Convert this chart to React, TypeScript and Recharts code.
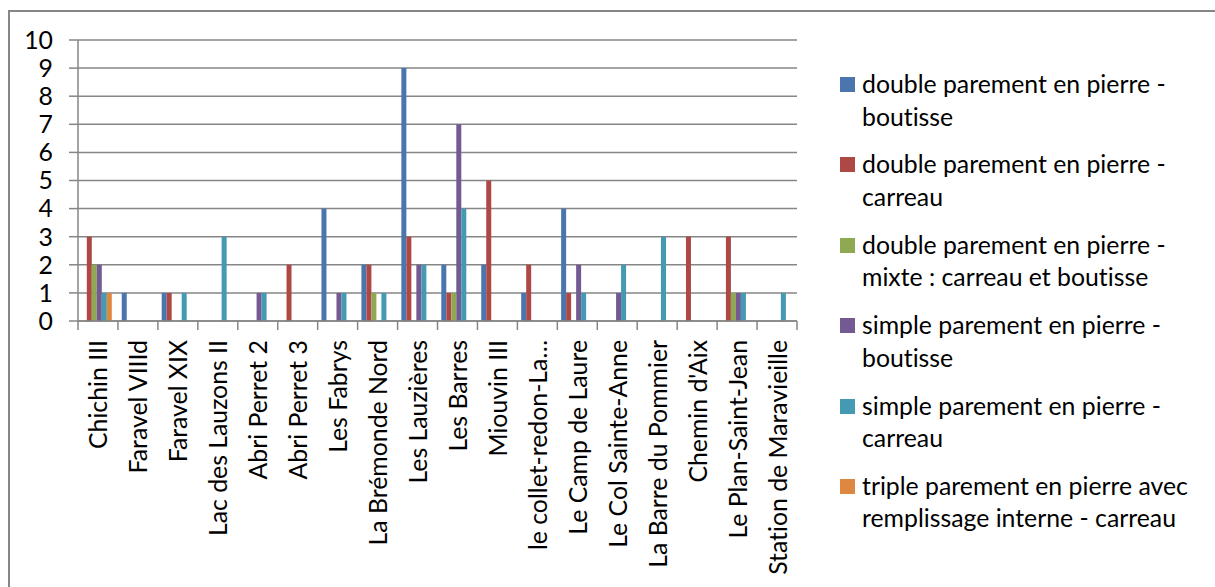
import React from 'react';
import { BarChart, Bar, XAxis, YAxis, CartesianGrid } from 'recharts';

const categories = [
  'Chichin III',
  'Faravel VIIId',
  'Faravel XIX',
  'Lac des Lauzons II',
  'Abri Perret 2',
  'Abri Perret 3',
  'Les Fabrys',
  'La Brémonde Nord',
  'Les Lauzières',
  'Les Barres',
  'Miouvin III',
  'le collet-redon-La…',
  'Le Camp de Laure',
  'Le Col Sainte-Anne',
  'La Barre du Pommier',
  "Chemin d'Aix",
  'Le Plan-Saint-Jean',
  'Station de Maravieille',
];

const doubleBoutisse = [0, 1, 1, 0, 0, 0, 4, 2, 9, 2, 2, 1, 4, 0, 0, 0, 0, 0];
const doubleCarreau = [3, 0, 1, 0, 0, 2, 0, 2, 3, 1, 5, 2, 1, 0, 0, 3, 3, 0];
const doubleMixte = [2, 0, 0, 0, 0, 0, 0, 1, 0, 1, 0, 0, 0, 0, 0, 0, 1, 0];
const simpleBoutisse = [2, 0, 0, 0, 1, 0, 1, 0, 2, 7, 0, 0, 2, 1, 0, 0, 1, 0];
const simpleCarreau = [1, 0, 1, 3, 1, 0, 1, 1, 2, 4, 0, 0, 1, 2, 3, 0, 1, 1];
const tripleCarreau = [1, 0, 0, 0, 0, 0, 0, 0, 0, 0, 0, 0, 0, 0, 0, 0, 0, 0];

const yTicks = [0, 1, 2, 3, 4, 5, 6, 7, 8, 9, 10];

const series = [
  { key: 's1', name: 'double parement en pierre - boutisse', values: doubleBoutisse, color: '#4A76AD' },
  { key: 's2', name: 'double parement en pierre - carreau', values: doubleCarreau, color: '#AE4845' },
  { key: 's3', name: 'double parement en pierre - mixte : carreau et boutisse', values: doubleMixte, color: '#8EA951' },
  { key: 's4', name: 'simple parement en pierre - boutisse', values: simpleBoutisse, color: '#735A92' },
  { key: 's5', name: 'simple parement en pierre - carreau', values: simpleCarreau, color: '#439AB2' },
  { key: 's6', name: 'triple parement en pierre avec remplissage interne - carreau', values: tripleCarreau, color: '#DE8740' },
];

const data = categories.map((name, i) => {
  const row: Record<string, string | number> = { name };
  series.forEach(s => { row[s.key] = s.values[i]; });
  return row;
});

const FONT = 'Lato, "DejaVu Sans", sans-serif';
const FONT_SIZE = 24.8;
const GREY = '#868686';

// label at band centre, small tick marks on the band edges like Excel does
const CategoryTick = (props: any) => {
  const { x, y, payload, index } = props;
  const half = payload && payload.offset ? payload.offset : 20;
  return (
    <g>
      <line x1={x - half} y1={y} x2={x - half} y2={y + 9} stroke={GREY} strokeWidth={1.5} />
      {index === categories.length - 1 && (
        <line x1={x + half} y1={y} x2={x + half} y2={y + 9} stroke={GREY} strokeWidth={1.5} />
      )}
      <text
        x={0}
        y={0}
        transform={`translate(${x}, ${y + 19}) rotate(-90)`}
        textAnchor="end"
        dominantBaseline="central"
        fill="#000"
        fontSize={FONT_SIZE}
        fontFamily={FONT}
        style={{ fontVariantLigatures: 'none' }}
      >
        {payload.value}
      </text>
    </g>
  );
};

export default function App() {
  return (
    <div style={{ position: 'absolute', left: 0, top: 0, width: 1215, height: 587, overflow: 'hidden', background: '#fff', fontFamily: FONT, fontVariantLigatures: 'none' }}>
      <div style={{ position: 'absolute', left: 8, top: 10, width: 1300, height: 700, border: `2px solid ${GREY}` }} />
      <div style={{ position: 'absolute', left: 0, top: 0 }}>
        <BarChart
          width={1215}
          height={587}
          data={data}
          margin={{ top: 40, right: 418, bottom: 0, left: 0 }}
          barCategoryGap={3.8}
          barGap={0}
        >
          <CartesianGrid vertical={false} stroke={GREY} strokeWidth={1.5} />
          <XAxis
            dataKey="name"
            interval={0}
            height={266}
            axisLine={{ stroke: GREY, strokeWidth: 1.5 }}
            tickLine={false}
            tickSize={0}
            tickMargin={0}
            tick={<CategoryTick />}
          />
          <YAxis
            width={78}
            domain={[0, 10]}
            ticks={yTicks}
            interval={0}
            axisLine={{ stroke: GREY, strokeWidth: 1.5 }}
            tickLine={{ stroke: GREY, strokeWidth: 1.5 }}
            tickSize={9}
            tickMargin={16}
            tick={{ fill: '#000', fontSize: FONT_SIZE, fontFamily: FONT }}
          />
          {series.map(s => (
            <Bar key={s.key} dataKey={s.key} name={s.name} fill={s.color} isAnimationActive={false} />
          ))}
        </BarChart>
      </div>
      <div style={{ position: 'absolute', left: 840, top: 68 }}>
        {series.map(s => (
          <div key={s.key} style={{ display: 'flex', alignItems: 'flex-start', marginBottom: 15.4 }}>
            <div style={{ width: 15, height: 15, background: s.color, marginTop: 9, marginRight: 7, flexShrink: 0 }} />
            <div style={{ width: 348, fontSize: FONT_SIZE, lineHeight: '32.5px', color: '#000' }}>{s.name}</div>
          </div>
        ))}
      </div>
    </div>
  );
}
